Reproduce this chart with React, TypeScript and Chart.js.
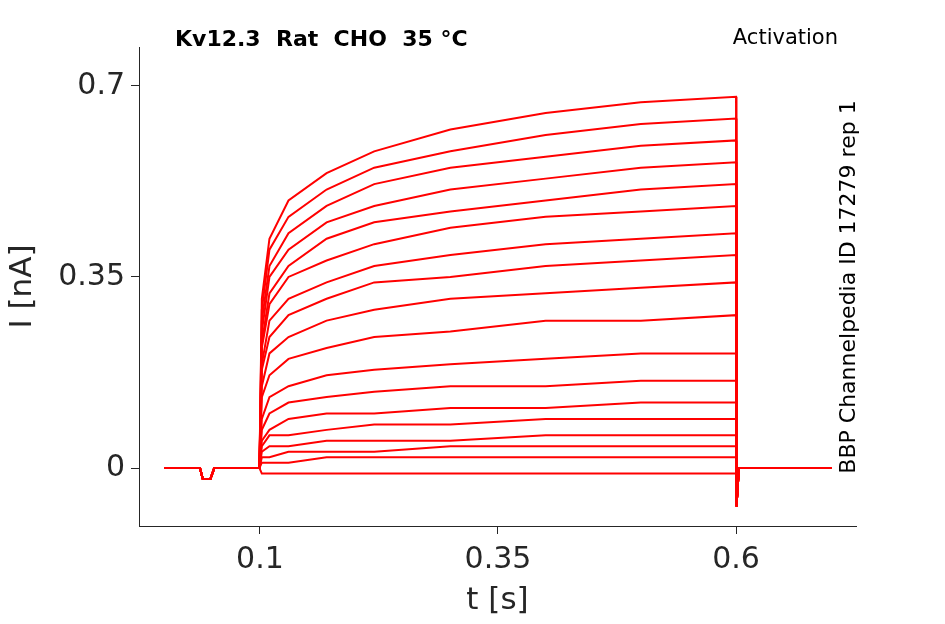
import React, { useEffect, useRef } from "react";
import { Chart, registerables } from "chart.js";
Chart.register(...registerables);

const stepTimes = [0.1, 0.102, 0.11, 0.13, 0.17, 0.22, 0.3, 0.4, 0.5, 0.6];
const traces: number[][] = [
  [0, 0.31, 0.42, 0.49, 0.54, 0.58, 0.62, 0.65, 0.67, 0.68],
  [0, 0.29, 0.4, 0.46, 0.51, 0.55, 0.58, 0.61, 0.63, 0.64],
  [0, 0.27, 0.37, 0.43, 0.48, 0.52, 0.55, 0.57, 0.59, 0.6],
  [0, 0.25, 0.35, 0.4, 0.45, 0.48, 0.51, 0.53, 0.55, 0.56],
  [0, 0.23, 0.32, 0.37, 0.42, 0.45, 0.47, 0.49, 0.51, 0.52],
  [0, 0.22, 0.3, 0.35, 0.38, 0.41, 0.44, 0.46, 0.47, 0.48],
  [0, 0.19, 0.27, 0.31, 0.34, 0.37, 0.39, 0.41, 0.42, 0.43],
  [0, 0.18, 0.24, 0.28, 0.31, 0.34, 0.35, 0.37, 0.38, 0.39],
  [0, 0.15, 0.21, 0.24, 0.27, 0.29, 0.31, 0.32, 0.33, 0.34],
  [0, 0.13, 0.17, 0.2, 0.22, 0.24, 0.25, 0.27, 0.27, 0.28],
  [0, 0.09, 0.13, 0.15, 0.17, 0.18, 0.19, 0.2, 0.21, 0.21],
  [0, 0.07, 0.1, 0.12, 0.13, 0.14, 0.15, 0.15, 0.16, 0.16],
  [0, 0.05, 0.07, 0.09, 0.1, 0.1, 0.11, 0.11, 0.12, 0.12],
  [0, 0.04, 0.06, 0.06, 0.07, 0.08, 0.08, 0.09, 0.09, 0.09],
  [0, 0.03, 0.04, 0.04, 0.05, 0.05, 0.05, 0.06, 0.06, 0.06],
  [0, 0.02, 0.02, 0.03, 0.03, 0.03, 0.04, 0.04, 0.04, 0.04],
  [0, 0.01, 0.01, 0.01, 0.02, 0.02, 0.02, 0.02, 0.02, 0.02],
  [0, -0.01, -0.01, -0.01, -0.01, -0.01, -0.01, -0.01, -0.01, -0.01],
];
const preTimes = [0, 0.037, 0.04, 0.048, 0.052, 0.0995];
const preValues = [0, 0, -0.02, -0.02, 0, 0];
const postTimes = [0.6005, 0.603, 0.7];
const postValues = [-0.07, 0, 0];
const xTicks = [0.1, 0.35, 0.6];
const yTicks = [0, 0.35, 0.7];

const FONT = "'DejaVu Sans', sans-serif";

export default function App() {
  const ref = useRef<HTMLCanvasElement>(null);
  useEffect(() => {
    const datasets = traces.map((tr) => ({
      data: [
        ...preTimes.map((x, i) => ({ x, y: preValues[i] })),
        ...stepTimes.map((x, i) => ({ x, y: tr[i] })),
        ...postTimes.map((x, i) => ({ x, y: postValues[i] })),
      ],
      borderColor: "#ff0000",
      borderWidth: 2,
      pointRadius: 0,
      showLine: true,
      tension: 0,
    }));
    const textPlugin = {
      id: "texts",
      afterDraw(c: any) {
        const ctx = c.ctx;
        ctx.save();
        ctx.fillStyle = "#000";
        ctx.textBaseline = "middle";
        ctx.font = `bold 22px ${FONT}`;
        ctx.textAlign = "left";
        ctx.fillText("Kv12.3  Rat  CHO  35 °C", 175, 40);
        ctx.font = `21px ${FONT}`;
        ctx.textAlign = "right";
        ctx.fillText("Activation", 838, 39);
        ctx.translate(849, 287);
        ctx.rotate(-Math.PI / 2);
        ctx.font = `22px ${FONT}`;
        ctx.textAlign = "center";
        ctx.fillText("BBP Channelpedia ID 17279 rep 1", 0, 0);
        ctx.restore();
      },
    };
    const chart = new Chart(ref.current!, {
      type: "scatter",
      data: { datasets },
      options: {
        animation: false,
        responsive: false,
        plugins: { legend: { display: false }, tooltip: { enabled: false } },
        layout: { padding: { top: 47, right: 89, left: 0, bottom: 0 } },
        scales: {
          x: {
            min: -0.027,
            max: 0.726,
            afterBuildTicks: (s: any) => { s.ticks = xTicks.map((v) => ({ value: v })); },
            afterFit: (s: any) => { s.height = 98; },
            ticks: { font: { family: FONT, size: 30 }, color: "#262626", padding: 8, maxRotation: 0, callback: (v: any) => String(v) },
            grid: { drawOnChartArea: false, tickLength: 8, color: "#262626" },
            border: { color: "#262626", width: 1 },
            title: { display: true, text: "t [s]", font: { family: FONT, size: 31 }, color: "#262626", padding: { top: 0 } },
          },
          y: {
            min: -0.106,
            max: 0.771,
            afterBuildTicks: (s: any) => { s.ticks = yTicks.map((v) => ({ value: v })); },
            afterFit: (s: any) => { s.width = 139; },
            ticks: { font: { family: FONT, size: 30 }, color: "#262626", padding: 6, callback: (v: any) => String(v) },
            grid: { drawOnChartArea: false, tickLength: 8, color: "#262626" },
            border: { color: "#262626", width: 1 },
            title: { display: true, text: "I [nA]", font: { family: FONT, size: 31 }, color: "#262626", padding: { bottom: 0 } },
          },
        },
      },
      plugins: [textPlugin],
    });
    return () => chart.destroy();
  }, []);
  return (
    <div style={{ position: "absolute", left: 0, top: 0, width: 945, height: 624, background: "#fff" }}>
      <canvas ref={ref} width={945} height={624} style={{ width: 945, height: 624 }} />
    </div>
  );
}
